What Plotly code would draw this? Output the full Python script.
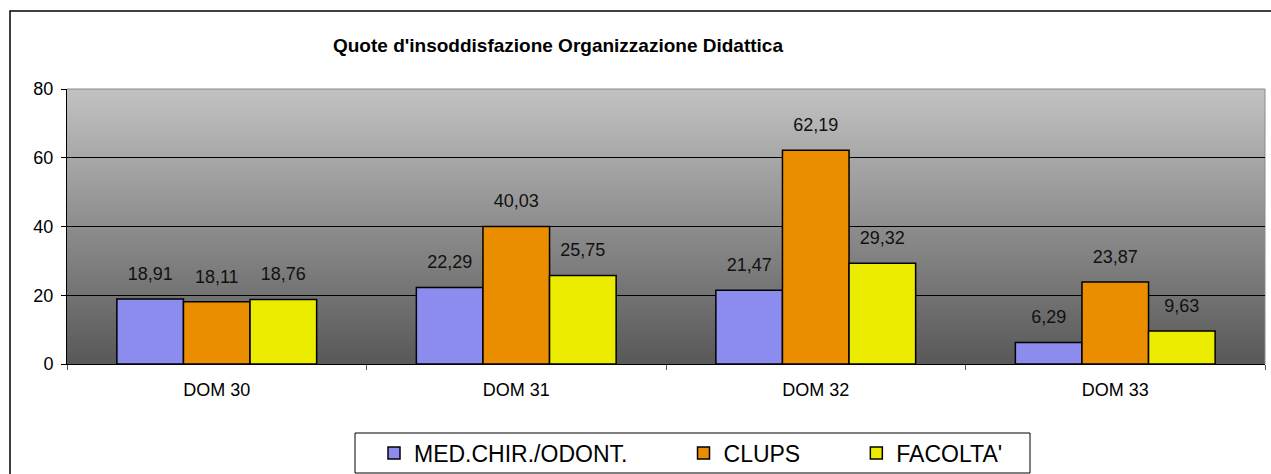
import base64
import plotly.graph_objects as go

# --- data -------------------------------------------------------------
categories = ["DOM 30", "DOM 31", "DOM 32", "DOM 33"]
series_names = ["MED.CHIR./ODONT.", "CLUPS", "FACOLTA'"]
med_chir_odont = [18.91, 22.29, 21.47, 6.29]
clups = [18.11, 40.03, 62.19, 23.87]
facolta = [18.76, 25.75, 29.32, 9.63]
y_ticks = [0, 20, 40, 60, 80]

series_values = [med_chir_odont, clups, facolta]
bar_colors = ["#8c8cee", "#ea8e00", "#ecec00"]

FONT = "Liberation Sans, Arial, sans-serif"
PAD = "\u00a0" * 8  # spacing between legend entries

def it_fmt(v):
    return f"{v:.2f}".replace(".", ",")

# vertical grey gradient used behind the plot area
svg = (
    "<svg xmlns='http://www.w3.org/2000/svg' width='10' height='100' preserveAspectRatio='none'>"
    "<defs><linearGradient id='g' x1='0' y1='0' x2='0' y2='1'>"
    "<stop offset='0' stop-color='#c2c2c2'/><stop offset='1' stop-color='#585858'/>"
    "</linearGradient></defs><rect width='10' height='100' fill='url(#g)'/></svg>"
)
bg_uri = "data:image/svg+xml;base64," + base64.b64encode(svg.encode()).decode()

fig = go.Figure()

for i, (name, vals, col) in enumerate(zip(series_names, series_values, bar_colors)):
    label = name + (PAD if i < len(series_names) - 1 else "")
    fig.add_trace(go.Bar(
        x=categories, y=vals, name=label, offsetgroup=name,
        marker=dict(color=col, line=dict(color="#000000", width=1.5)),
        hoverinfo="x+y",
    ))

# value labels floating above each bar
for name, vals in zip(series_names, series_values):
    fig.add_trace(go.Scatter(
        x=categories, y=vals, offsetgroup=name, mode="markers+text",
        text=[it_fmt(v) for v in vals], textposition="top center",
        textfont=dict(family=FONT, size=18, color="#111111"),
        marker=dict(size=22, opacity=0), showlegend=False, hoverinfo="skip",
        cliponaxis=False,
    ))

fig.update_layout(
    width=1271, height=474,
    margin=dict(l=67, r=6, t=89, b=110, autoexpand=False),
    paper_bgcolor="#ffffff",
    plot_bgcolor="rgba(0,0,0,0)",
    barmode="group", bargap=0.333, bargroupgap=0,
    scattermode="group", scattergap=0.333,
    font=dict(family=FONT, color="#000000"),
    title=dict(
        text="<b>Quote d'insoddisfazione Organizzazione Didattica</b>",
        x=558 / 1271, xref="container", xanchor="center",
        y=1 - 45 / 474, yref="container", yanchor="middle",
        font=dict(family=FONT, size=19, color="#000000"),
    ),
    xaxis=dict(
        showgrid=False, tickson="boundaries", ticks="outside", ticklen=5,
        tickcolor="#555555", showline=True, linecolor="#000000", linewidth=1,
        tickfont=dict(family=FONT, size=18, color="#000000"),
        ticklabelstandoff=9, automargin=False,
        fixedrange=True,
    ),
    yaxis=dict(
        range=[0, 80], tickvals=y_ticks, ticks="outside", ticklen=5,
        tickcolor="#000000", showline=True, linecolor="#000000", linewidth=1,
        showgrid=True, gridcolor="#000000", gridwidth=1, zeroline=False,
        tickfont=dict(family=FONT, size=18, color="#000000"),
        ticklabelstandoff=4, automargin=False,
        fixedrange=True,
    ),
    legend=dict(
        orientation="h", x=(374 - 67) / 1198, xanchor="left",
        y=(364 - 453) / 275, yanchor="middle",
        bgcolor="rgba(0,0,0,0)", borderwidth=0,
        font=dict(family=FONT, size=23, color="#000000"),
        tracegroupgap=0,
    ),
    images=[dict(
        source=bg_uri, xref="paper", yref="paper", x=0, y=1,
        sizex=1, sizey=1, xanchor="left", yanchor="top",
        sizing="stretch", layer="below",
    )],
    shapes=[
        # chart border
        dict(type="rect", xref="paper", yref="paper",
             x0=(10 - 67) / 1198, x1=1.2, y0=-0.6, y1=(364 - 11) / 275,
             line=dict(color="#000000", width=1.5), fillcolor="rgba(0,0,0,0)",
             layer="above"),
        # legend frame
        dict(type="rect", xref="paper", yref="paper",
             x0=(355 - 67) / 1198, x1=(1030 - 67) / 1198,
             y0=(364 - 473) / 275, y1=(364 - 433) / 275,
             line=dict(color="#000000", width=1), fillcolor="#ffffff",
             layer="below"),
        # plot area frame (top / right)
        dict(type="path", xref="paper", yref="paper",
             path="M 0,1 L 1,1 L 1,0", line=dict(color="#8a8a8a", width=1),
             layer="below"),
    ],
)

fig.write_html("out.html")
